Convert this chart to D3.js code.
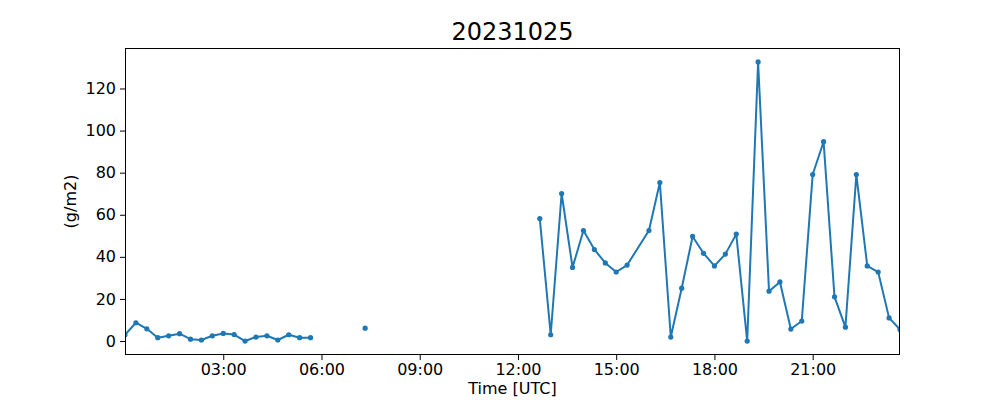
<!DOCTYPE html>
<html>
<head>
<meta charset="utf-8">
<script src="https://cdn.jsdelivr.net/npm/d3@7"></script>
<style>
  body { margin: 0; background: #fff; }
  svg text { font-family: "DejaVu Sans", sans-serif; fill: #000; }
</style>
</head>
<body>
<div id="chart"></div>
<script>
var chartTitle = "20231025";
var xLabel = "Time [UTC]";
var yLabel = "(g/m2)";

// 20 minute samples, null where there is no value (line breaks)
var times = [
  "00:00","00:20","00:40","01:00","01:20","01:40","02:00","02:20","02:40",
  "03:00","03:20","03:40","04:00","04:20","04:40","05:00","05:20","05:40",
  "06:00","07:20","07:40",
  "12:40","13:00","13:20","13:40","14:00","14:20","14:40","15:00","15:20",
  "16:00","16:20","16:40","17:00","17:20","17:40","18:00","18:20","18:40",
  "19:00","19:20","19:40","20:00","20:20","20:40","21:00","21:20","21:40",
  "22:00","22:20","22:40","23:00","23:20","23:40"
];
var values = [
  3.0, 8.7, 5.8, 1.6, 2.5, 3.5, 0.9, 0.5, 2.5,
  3.6, 3.1, 0.0, 1.9, 2.5, 0.5, 3.0, 1.6, 1.6,
  null, 6.1, null,
  58.2, 3.0, 70.1, 35.0, 52.5, 43.5, 37.1, 32.8, 36.1,
  52.5, 75.3, 1.9, 25.1, 49.7, 41.7, 35.7, 41.3, 50.8,
  0.0, 132.6, 23.7, 28.1, 5.7, 9.5, 79.1, 94.7, 21.0,
  6.6, 79.1, 35.7, 32.8, 11.0, 5.5
];
var xTicks = ["03:00","06:00","09:00","12:00","15:00","18:00","21:00"];
var yTicks = [0, 20, 40, 60, 80, 100, 120];

var width = 1000, height = 400;
var margin = {left: 125, right: 100, top: 48, bottom: 45};
var color = "#1f77b4";

var parseT = d3.timeParse("%H:%M");
var data = times.map(function(t, i){ return {t: parseT(t), v: values[i]}; });

var svg = d3.select("#chart").append("svg")
    .attr("width", width)
    .attr("height", height);

var x = d3.scaleTime()
    .domain(d3.extent(data, function(d){ return d.t; }))
    .range([margin.left, width - margin.right]);

var vmax = d3.max(values), vmin = d3.min(values);
var pad = (vmax - vmin) * 0.05;
var y = d3.scaleLinear()
    .domain([vmin - pad, vmax + pad])
    .range([height - margin.bottom, margin.top]);

svg.append("clipPath").attr("id", "clip")
    .append("rect")
    .attr("x", margin.left).attr("y", margin.top)
    .attr("width", width - margin.left - margin.right)
    .attr("height", height - margin.top - margin.bottom);

var plot = svg.append("g").attr("clip-path", "url(#clip)");

plot.append("path")
    .datum(data)
    .attr("fill", "none")
    .attr("stroke", color)
    .attr("stroke-width", 2)
    .attr("stroke-linejoin", "round")
    .attr("d", d3.line()
        .defined(function(d){ return d.v !== null; })
        .x(function(d){ return x(d.t); })
        .y(function(d){ return y(d.v); }));

plot.selectAll("circle")
    .data(data.filter(function(d){ return d.v !== null; }))
    .enter().append("circle")
    .attr("cx", function(d){ return x(d.t); })
    .attr("cy", function(d){ return y(d.v); })
    .attr("r", 2.6)
    .attr("fill", color);

// axes
svg.append("g")
    .attr("transform", "translate(0," + (height - margin.bottom) + ")")
    .call(d3.axisBottom(x)
        .tickValues(xTicks.map(parseT))
        .tickFormat(d3.timeFormat("%H:%M"))
        .tickSizeInner(5).tickSizeOuter(0).tickPadding(4));

svg.append("g")
    .attr("transform", "translate(" + margin.left + ",0)")
    .call(d3.axisLeft(y)
        .tickValues(yTicks)
        .tickSizeInner(5).tickSizeOuter(0).tickPadding(4));

svg.selectAll(".domain").remove();
svg.selectAll(".tick line").attr("stroke", "#000").attr("stroke-width", 1);
svg.selectAll(".tick text")
    .style("font-size", "16px")
    .style("font-family", "DejaVu Sans, sans-serif");

svg.append("rect")
    .attr("x", margin.left + 0.5).attr("y", margin.top + 0.5)
    .attr("width", width - margin.left - margin.right - 1)
    .attr("height", height - margin.top - margin.bottom - 1)
    .attr("fill", "none")
    .attr("stroke", "#000")
    .attr("stroke-width", 1);

svg.append("text")
    .attr("x", (margin.left + width - margin.right) / 2)
    .attr("y", 40)
    .attr("text-anchor", "middle")
    .style("font-size", "24px")
    .text(chartTitle);

svg.append("text")
    .attr("x", (margin.left + width - margin.right) / 2)
    .attr("y", 394)
    .attr("text-anchor", "middle")
    .style("font-size", "16px")
    .text(xLabel);

svg.append("text")
    .attr("transform", "translate(76," + ((margin.top + height - margin.bottom) / 2) + ") rotate(-90)")
    .attr("text-anchor", "middle")
    .style("font-size", "16px")
    .text(yLabel);
</script>
</body>
</html>
